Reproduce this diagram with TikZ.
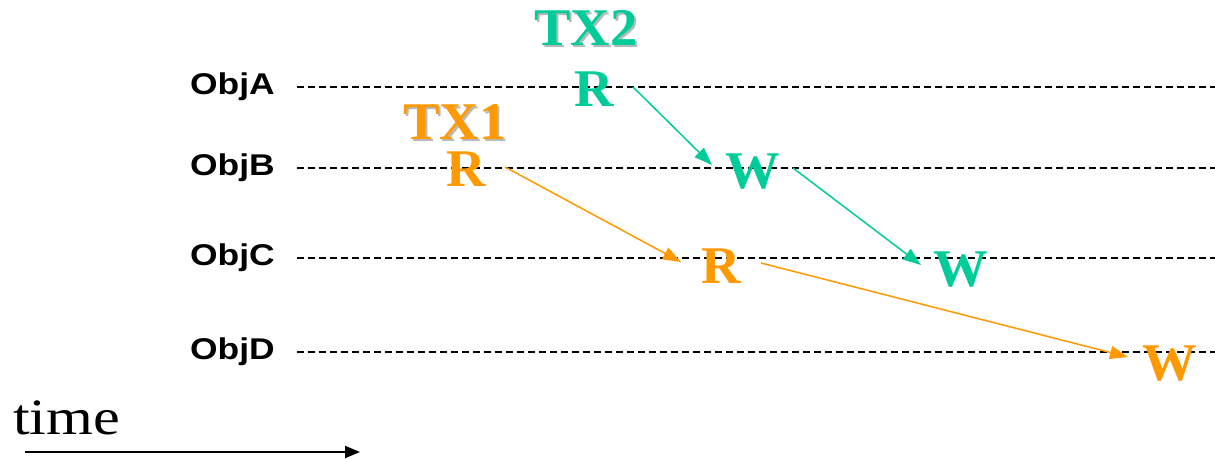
\documentclass[tikz,border=0pt]{standalone}
\usepackage{graphicx}
\usepackage{fontspec}
\setmainfont{Liberation Serif}
\newfontfamily\objfont{Liberation Sans}
\usetikzlibrary{arrows.meta}
\definecolor{txgreen}{HTML}{00CC99}
\definecolor{txorange}{HTML}{FF9900}
\definecolor{shadowgray}{HTML}{B8B8B8}
\newcommand\wideobj[1]{\scalebox{1.18}[1]{#1}}
\newcommand\wideop[1]{\scalebox{1.03}[1]{#1}}
\begin{document}
\begin{tikzpicture}[x=1pt,y=-1pt,
  objlabel/.style={font=\objfont\bfseries\fontsize{30}{30}\selectfont, inner sep=0, anchor=base west},
  oplabel/.style={font=\bfseries\fontsize{53}{53}\selectfont, inner sep=0, anchor=base},
  timeline/.style={line width=1.8pt, dash pattern=on 7pt off 4pt},
  flow/.style={line width=1.5pt, -{Triangle[length=18pt,width=13pt]}},
]
\useasboundingbox (0,0) rectangle (1215,458);

% object labels and their time lines
\node[objlabel] (la) at (190,94) {\wideobj{ObjA}};
\node[objlabel] (lb) at (190,175) {\wideobj{ObjB}};
\node[objlabel] (lc) at (190,265) {\wideobj{ObjC}};
\node[objlabel] (ld) at (190,359) {\wideobj{ObjD}};
\coordinate (ea) at (1215,87);
\coordinate (eb) at (1215,168);
\coordinate (ec) at (1215,258);
\coordinate (ed) at (1215,352);
\draw[timeline] ([shift={(22,-7)}]la.base east) -- (ea);
\draw[timeline] ([shift={(22,-7)}]lb.base east) -- (eb);
\draw[timeline] ([shift={(22,-7)}]lc.base east) -- (ec);
\draw[timeline] ([shift={(22,-7)}]ld.base east) -- (ed);

% TX2
\node[oplabel, text=shadowgray] (tx2s) at (588,47) {\wideop{TX2}};
\node[oplabel, text=txgreen] (tx2) at (586,45) {\wideop{TX2}};
\node[oplabel, text=txgreen] (r2) at (594,106) {\wideop{R}};
\node[oplabel, text=txgreen] (w2b) at (753,188) {\wideop{W}};
\node[oplabel, text=txgreen] (w2c) at (961,286) {\wideop{W}};

% TX1
\node[oplabel, text=shadowgray] (tx1s) at (457,141) {\wideop{TX1}};
\node[oplabel, text=txorange] (tx1) at (455,139) {\wideop{TX1}};
\node[oplabel, text=txorange] (r1) at (466,186) {\wideop{R}};
\node[oplabel, text=txorange] (r1c) at (721,283) {\wideop{R}};
\node[oplabel, text=txorange] (w1d) at (1170,380) {\wideop{W}};

% flows
\draw[flow, txgreen] ([shift={(39,-19)}]r2.base) -- ([shift={(-41,-23)}]w2b.base);
\draw[flow, txgreen] ([shift={(40,-20)}]w2b.base) -- ([shift={(-40,-21)}]w2c.base);
\draw[flow, txorange] ([shift={(39,-19)}]r1.base) -- ([shift={(-40,-21)}]r1c.base);
\draw[flow, txorange] ([shift={(40,-20)}]r1c.base) -- ([shift={(-42,-23)}]w1d.base);

% time axis
\node[font=\fontsize{51}{51}\selectfont, inner sep=0, anchor=base west] (time) at (13,434) {\scalebox{1.18}[1]{time}};
\coordinate (t0) at (25,452);
\coordinate (t1) at (360,452);
\draw[line width=2pt, -{Triangle[length=15pt,width=12pt]}] (t0) -- (t1);
\end{tikzpicture}
\end{document}
